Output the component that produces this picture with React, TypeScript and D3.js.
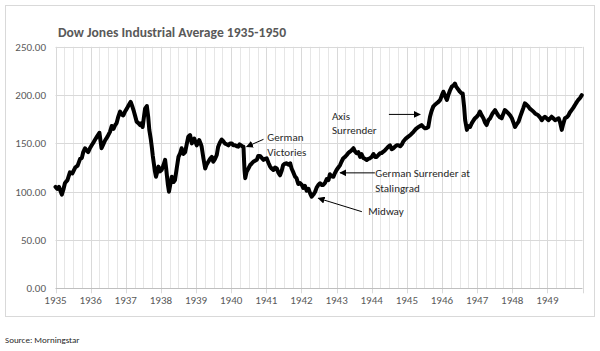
import * as d3 from "d3"

// Dow Jones Industrial Average (decimal year, index level)
const dates = [
  1935.0, 1935.05, 1935.1, 1935.14, 1935.18, 1935.23, 1935.27, 1935.34, 1935.41, 1935.48,
  1935.56, 1935.63, 1935.7, 1935.75, 1935.79, 1935.84, 1935.88, 1935.93, 1935.98, 1936.03,
  1936.08, 1936.12, 1936.18, 1936.25, 1936.31, 1936.36, 1936.41, 1936.48, 1936.55, 1936.6,
  1936.65, 1936.7, 1936.74, 1936.79, 1936.84, 1936.88, 1936.93, 1936.98, 1937.03, 1937.09,
  1937.14, 1937.18, 1937.22, 1937.27, 1937.31, 1937.36, 1937.41, 1937.45, 1937.48, 1937.52,
  1937.55, 1937.6, 1937.64, 1937.67, 1937.71, 1937.74, 1937.77, 1937.8, 1937.83, 1937.86,
  1937.9, 1937.93, 1937.97, 1938.02, 1938.07, 1938.12, 1938.15, 1938.17, 1938.2, 1938.23,
  1938.27, 1938.31, 1938.36, 1938.4, 1938.45, 1938.5, 1938.55, 1938.59, 1938.64, 1938.69,
  1938.74, 1938.78, 1938.83, 1938.88, 1938.92, 1938.95, 1939.02, 1939.05, 1939.09, 1939.13,
  1939.16, 1939.21, 1939.26, 1939.3, 1939.35, 1939.4, 1939.45, 1939.49, 1939.54, 1939.59,
  1939.63, 1939.68, 1939.73, 1939.78, 1939.82, 1939.87, 1939.92, 1939.97, 1940.02, 1940.06,
  1940.11, 1940.16, 1940.2, 1940.24, 1940.28, 1940.32, 1940.35, 1940.37, 1940.38, 1940.4,
  1940.44, 1940.49, 1940.54, 1940.58, 1940.63, 1940.68, 1940.73, 1940.77, 1940.82, 1940.87,
  1940.92, 1940.96, 1941.01, 1941.06, 1941.11, 1941.15, 1941.2, 1941.25, 1941.3, 1941.34,
  1941.39, 1941.44, 1941.48, 1941.53, 1941.58, 1941.63, 1941.68, 1941.72, 1941.77, 1941.82,
  1941.86, 1941.91, 1941.96, 1942.01, 1942.05, 1942.1, 1942.15, 1942.2, 1942.25, 1942.29,
  1942.34, 1942.39, 1942.43, 1942.48, 1942.53, 1942.58, 1942.62, 1942.67, 1942.72, 1942.77,
  1942.81, 1942.86, 1942.91, 1942.95, 1943.0, 1943.05, 1943.1, 1943.14, 1943.19, 1943.24,
  1943.29, 1943.33, 1943.38, 1943.43, 1943.48, 1943.52, 1943.57, 1943.62, 1943.67, 1943.71,
  1943.76, 1943.81, 1943.86, 1943.9, 1943.95, 1944.0, 1944.05, 1944.1, 1944.14, 1944.19,
  1944.24, 1944.28, 1944.33, 1944.38, 1944.43, 1944.48, 1944.52, 1944.57, 1944.62, 1944.67,
  1944.71, 1944.76, 1944.81, 1944.86, 1944.9, 1944.97, 1945.04, 1945.11, 1945.19, 1945.26,
  1945.33, 1945.38, 1945.42, 1945.47, 1945.52, 1945.57, 1945.61, 1945.66, 1945.7, 1945.75,
  1945.8, 1945.85, 1945.9, 1945.95, 1946.0, 1946.04, 1946.09, 1946.14, 1946.18, 1946.23,
  1946.28, 1946.33, 1946.37, 1946.4, 1946.44, 1946.48, 1946.51, 1946.55, 1946.59, 1946.63,
  1946.66, 1946.71, 1946.75, 1946.8, 1946.85, 1946.9, 1946.94, 1946.99, 1947.04, 1947.08,
  1947.13, 1947.18, 1947.22, 1947.27, 1947.32, 1947.37, 1947.44, 1947.51, 1947.55, 1947.6,
  1947.65, 1947.7, 1947.74, 1947.79, 1947.84, 1947.89, 1947.94, 1947.99, 1948.03, 1948.08,
  1948.13, 1948.18, 1948.23, 1948.28, 1948.32, 1948.36, 1948.41, 1948.46, 1948.5, 1948.55,
  1948.6, 1948.65, 1948.7, 1948.74, 1948.79, 1948.84, 1948.88, 1948.93, 1948.98, 1949.03,
  1949.08, 1949.12, 1949.17, 1949.22, 1949.27, 1949.32, 1949.36, 1949.41, 1949.45, 1949.5,
  1949.55, 1949.6, 1949.64, 1949.69, 1949.74, 1949.79, 1949.84, 1949.88, 1949.93, 1949.98,
]

const values = [
  105, 103, 105, 101, 97, 103, 109, 112, 120, 119,
  125, 127, 134, 135, 141, 145, 143, 141, 145, 148,
  151, 153.5, 157, 161, 145, 149, 153, 157, 162, 168,
  165, 169, 171, 178, 183, 180, 179, 183, 186, 190,
  193, 189, 184.5, 178, 172.5, 171, 169, 171, 167, 178,
  186, 188.7, 177, 164, 155, 146.6, 137, 129, 121, 115.5,
  121, 126, 121, 122.5, 127, 133, 124, 117, 107, 100,
  108, 115.5, 110, 112, 124, 136, 140, 145, 139, 141,
  150, 157, 158.7, 150, 153, 155, 148, 150, 153.5, 150,
  146.6, 134.6, 124, 128, 131, 134, 136, 131, 134, 138,
  146.6, 151, 154, 152, 150, 149, 148, 150, 150, 148,
  148, 147, 146.6, 149, 148, 147, 146.6, 130, 122.5, 114,
  120.7, 124, 127.6, 129, 131, 132, 133, 137, 137, 135,
  133, 134, 134.6, 130, 126, 124, 122.5, 125, 124, 120,
  117, 122, 127.6, 129, 129.4, 128, 129.4, 124, 120, 115.5,
  114, 108, 109, 107, 104, 106, 101, 103, 98, 94.8,
  97, 100, 104, 107, 108.7, 107, 107, 109, 113, 112,
  118, 116, 115.5, 119, 122.5, 125, 127.6, 131, 134.6, 136,
  138, 140, 141.4, 143, 145, 142, 139.8, 141, 136, 139,
  135, 134, 132.8, 134, 134.6, 136, 139, 136, 136, 138,
  139.8, 140, 141.4, 143, 145, 147, 148, 144, 145, 147,
  148, 148, 147, 149, 152, 155, 157, 159, 162, 165,
  167, 168, 169, 167, 165.6, 166, 167, 177.6, 183, 188,
  190, 191.5, 193, 195, 200, 203.5, 199, 195, 200, 205,
  208.7, 210, 212, 209, 207, 205, 203.5, 202, 201.8, 188,
  174, 164, 168, 167, 171, 174, 176, 177.6, 180, 183,
  179, 176, 172, 169, 174, 176, 181, 184.5, 182, 179,
  177, 176, 180, 184.5, 183, 181, 179, 176, 172, 167,
  170, 172.5, 178, 183, 187, 191.5, 190, 188, 186, 184.5,
  183, 181, 180, 179, 177, 174, 176, 177.6, 176, 174,
  176, 177.6, 176, 174, 175, 176, 172, 164, 170, 176,
  177, 179, 182, 184.5, 187, 190, 193, 195, 197, 200,
]

const years = d3.range(1935, 1950)
const yTicks = [0, 50, 100, 150, 200, 250]

// annotations: text lines, text anchor and arrow tail/tip in data space
const notes = [
  { lines: ["German", "Victories"], tx: 1941.03, ty: 152, from: [1940.92, 154.2], to: [1940.44, 146.6] },
  { lines: ["Axis", "Surrender"], tx: 1942.87, ty: 174.5, from: [1944.49, 180], to: [1945.38, 180] },
  { lines: ["German Surrender at", "Stalingrad"], tx: 1944.1, ty: 115, from: [1944.09, 119.5], to: [1943.1, 119.5] },
  { lines: ["Midway"], tx: 1943.9, ty: 75.5, from: [1943.72, 79.3], to: [1942.48, 93.2] },
]

const W = 600
const H = 351
const font = "Carlito, Calibri, Lato, sans-serif"

export default function App() {
  const x = d3.scaleLinear().domain([1935, 1950]).range([55.5, 582.5])
  const y = d3.scaleLinear().domain([0, 250]).range([288.3, 46.8])

  const pts = dates.map((d, i) => [d, values[i]] as [number, number])
  const line = d3
    .line<[number, number]>()
    .x((d) => x(d[0]))
    .y((d) => y(d[1]))

  const quarters = d3.range(1935, 1950.01, 0.25)

  return (
    <svg
      width={W}
      height={H}
      style={{ position: "absolute", left: 0, top: 0, background: "#fff" }}
      fontFamily={font}
    >
      <defs>
        <marker id="arr" viewBox="0 0 10 10" refX="9" refY="5" markerWidth="7" markerHeight="7" orient="auto">
          <path d="M0,0 L10,5 L0,10 z" fill="#000" />
        </marker>
      </defs>
      <rect x={5.5} y={5.5} width={589} height={311} fill="#fff" stroke="#d9d9d9" />

      <text x={58} y={36.5} fontSize={13.6} fontWeight="bold" fill="#595959">
        Dow Jones Industrial Average 1935-1950
      </text>

      {/* vertical quarter gridlines */}
      {quarters.map((q, i) => (
        <line
          key={"v" + i}
          x1={Math.round(x(q)) + 0.5}
          x2={Math.round(x(q)) + 0.5}
          y1={y(250)}
          y2={y(0) + (i % 4 === 0 ? 5 : 0)}
          stroke={i % 4 === 0 ? "#d9d9d9" : "#e6e6e6"}
        />
      ))}

      {/* horizontal gridlines + y labels */}
      {yTicks.map((t) => (
        <g key={"h" + t}>
          <line
            x1={x(1935)}
            x2={x(1950)}
            y1={Math.round(y(t)) + 0.5}
            y2={Math.round(y(t)) + 0.5}
            stroke={t === 0 ? "#bfbfbf" : "#d9d9d9"}
          />
          <text x={46} y={y(t) + 4} textAnchor="end" fontSize={11} fill="#595959">
            {d3.format(".2f")(t)}
          </text>
        </g>
      ))}

      {years.map((yr) => (
        <text key={yr} x={x(yr)} y={304} textAnchor="middle" fontSize={11} fill="#595959">
          {yr}
        </text>
      ))}

      <path
        d={line(pts) || ""}
        fill="none"
        stroke="#000"
        strokeWidth={4}
        strokeLinejoin="round"
        strokeLinecap="round"
      />

      {notes.map((n, i) => (
        <g key={"n" + i}>
          <line
            x1={x(n.from[0])}
            y1={y(n.from[1])}
            x2={x(n.to[0])}
            y2={y(n.to[1])}
            stroke="#000"
            strokeWidth={1}
            markerEnd="url(#arr)"
          />
          {n.lines.map((l, j) => (
            <text key={j} x={x(n.tx)} y={y(n.ty) + j * 14.5} fontSize={11} fill="#262626">
              {l}
            </text>
          ))}
        </g>
      ))}

      <text x={5} y={343} fontSize={9} fill="#262626">
        Source: Morningstar
      </text>
    </svg>
  )
}
